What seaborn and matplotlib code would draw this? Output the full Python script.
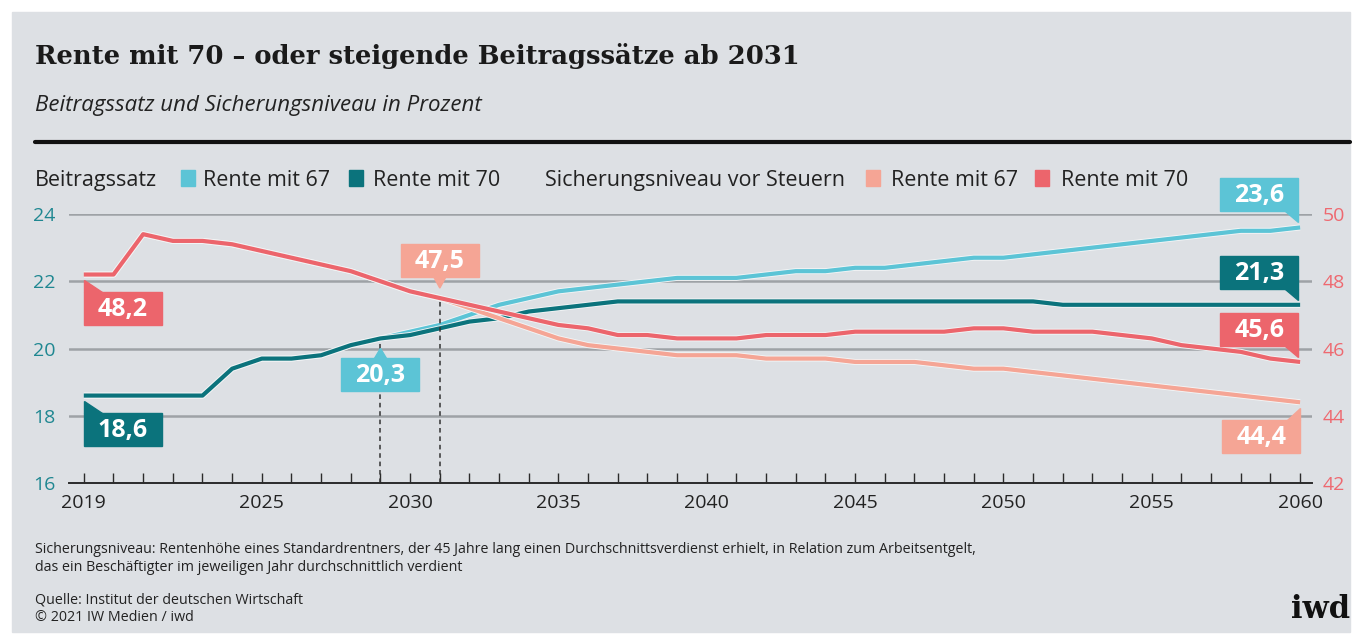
import matplotlib
matplotlib.use("Agg")
import matplotlib.pyplot as plt
import matplotlib.patheffects as pe
import matplotlib.transforms as mtransforms
from matplotlib.patches import Rectangle, Polygon
from matplotlib.ticker import FixedLocator, MultipleLocator
import pandas as pd
import seaborn as sns

# --- data ---
years = list(range(2019, 2061))

# Beitragssatz in Prozent (linke Achse)
beitrag_67 = [18.6, 18.6, 18.6, 18.6, 18.6, 19.4, 19.7, 19.7, 19.8, 20.1, 20.3,
              20.5, 20.7, 21.0, 21.3, 21.5, 21.7, 21.8, 21.9, 22.0, 22.1, 22.1,
              22.1, 22.2, 22.3, 22.3, 22.4, 22.4, 22.5, 22.6, 22.7, 22.7, 22.8,
              22.9, 23.0, 23.1, 23.2, 23.3, 23.4, 23.5, 23.5, 23.6]
beitrag_70 = [18.6, 18.6, 18.6, 18.6, 18.6, 19.4, 19.7, 19.7, 19.8, 20.1, 20.3,
              20.4, 20.6, 20.8, 20.9, 21.1, 21.2, 21.3, 21.4, 21.4, 21.4, 21.4,
              21.4, 21.4, 21.4, 21.4, 21.4, 21.4, 21.4, 21.4, 21.4, 21.4, 21.4,
              21.3, 21.3, 21.3, 21.3, 21.3, 21.3, 21.3, 21.3, 21.3]

# Sicherungsniveau vor Steuern in Prozent (rechte Achse)
niveau_67 = [48.2, 48.2, 49.4, 49.2, 49.2, 49.1, 48.9, 48.7, 48.5, 48.3, 48.0,
             47.7, 47.5, 47.2, 46.9, 46.6, 46.3, 46.1, 46.0, 45.9, 45.8, 45.8,
             45.8, 45.7, 45.7, 45.7, 45.6, 45.6, 45.6, 45.5, 45.4, 45.4, 45.3,
             45.2, 45.1, 45.0, 44.9, 44.8, 44.7, 44.6, 44.5, 44.4]
niveau_70 = [48.2, 48.2, 49.4, 49.2, 49.2, 49.1, 48.9, 48.7, 48.5, 48.3, 48.0,
             47.7, 47.5, 47.3, 47.1, 46.9, 46.7, 46.6, 46.4, 46.4, 46.3, 46.3,
             46.3, 46.4, 46.4, 46.4, 46.5, 46.5, 46.5, 46.5, 46.6, 46.6, 46.5,
             46.5, 46.5, 46.4, 46.3, 46.1, 46.0, 45.9, 45.7, 45.6]

variants = ["Rente mit 67", "Rente mit 70"]
left_ticks = [16, 18, 20, 22, 24]
right_ticks = [42, 44, 46, 48, 50]
year_labels = [2019, 2025, 2030, 2035, 2040, 2045, 2050, 2055, 2060]
marker_years = [2029, 2031]

title = "Rente mit 70 – oder steigende Beitragssätze ab 2031"
subtitle = "Beitragssatz und Sicherungsniveau in Prozent"
note = ["Sicherungsniveau: Rentenhöhe eines Standardrentners, der 45 Jahre lang einen "
        "Durchschnittsverdienst erhielt, in Relation zum Arbeitsentgelt,",
        "das ein Beschäftigter im jeweiligen Jahr durchschnittlich verdient"]
source = ["Quelle: Institut der deutschen Wirtschaft", "© 2021 IW Medien / iwd"]

CYAN = "#5cc4d6"
TEAL = "#0b737c"
SALMON = "#f5a595"
RED = "#ec656c"
PANEL = "#dde0e4"
DARK = "#1a1a1a"

W, H = 1362, 642

sns.set_theme(style="white")
plt.rcParams["font.family"] = ["Open Sans", "DejaVu Sans"]

fig = plt.figure(figsize=(W / 100, H / 100), dpi=100)
fig.patch.set_facecolor("white")


def fx(x):
    return x / W


def fy(y):
    return 1 - y / H


fig.add_artist(Rectangle((fx(12), fy(632)), fx(1338), 620 / H,
                         transform=fig.transFigure, color=PANEL, zorder=0))

# header
fig.text(fx(35), fy(64), title, family=["DejaVu Serif"],
         fontweight="bold", fontsize=18.6, color=DARK, va="baseline")
fig.text(fx(35), fy(111), subtitle, fontstyle="italic", fontsize=16,
         color="#222222", va="baseline")
fig.add_artist(plt.Line2D([fx(35), fx(1350)], [fy(142), fy(142)],
                          transform=fig.transFigure, color="#111111", lw=3))

# legend row
legend_items = [
    ("text", 35, "Beitragssatz"),
    ("box", 181, CYAN), ("text", 203, variants[0]),
    ("box", 349, TEAL), ("text", 373, variants[1]),
    ("text", 545, "Sicherungsniveau vor Steuern"),
    ("box", 866, SALMON), ("text", 891, variants[0]),
    ("box", 1035, RED), ("text", 1061, variants[1]),
]
for kind, x, val in legend_items:
    if kind == "text":
        fig.text(fx(x), fy(186), val, fontsize=15.5, color="#222222", va="baseline")
    else:
        fig.add_artist(Rectangle((fx(x), fy(186)), fx(14), 16 / H,
                                 transform=fig.transFigure, color=val))

# axes
ax = fig.add_axes([fx(69), fy(483), fx(1312 - 69), (483 - 214) / H])
ax.patch.set_visible(False)

beitrag_df = pd.DataFrame({
    "Jahr": years * 2,
    "Wert": beitrag_67 + beitrag_70,
    "Variante": [variants[0]] * len(years) + [variants[1]] * len(years),
})
niveau_df = pd.DataFrame({
    "Jahr": years * 2,
    "Wert": niveau_67 + niveau_70,
    "Variante": [variants[0]] * len(years) + [variants[1]] * len(years),
})

sns.lineplot(data=beitrag_df, x="Jahr", y="Wert", hue="Variante", hue_order=variants,
             palette={variants[0]: CYAN, variants[1]: TEAL}, linewidth=3,
             legend=False, ax=ax)

ax2 = ax.twinx()
ax2.patch.set_visible(False)
sns.lineplot(data=niveau_df, x="Jahr", y="Wert", hue="Variante", hue_order=variants,
             palette={variants[0]: SALMON, variants[1]: RED}, linewidth=3,
             legend=False, ax=ax2)

halo = [pe.Stroke(linewidth=4.3, foreground="#f3f5f6"), pe.Normal()]
for line in ax.lines + ax2.lines:
    line.set_path_effects(halo)
    line.set_solid_capstyle("butt")

ax.set_xlim(2018.5, 2060.4)
ax.set_ylim(16, 24)
ax2.set_ylim(42, 50)
for a in (ax, ax2):
    a.set_xlabel("")
    a.set_ylabel("")
    for s in a.spines.values():
        s.set_visible(False)

ax.spines["bottom"].set_visible(True)
ax.spines["bottom"].set_color("#2b2b2b")
ax.spines["bottom"].set_linewidth(1.4)
ax.spines["bottom"].set_zorder(5)

ax.xaxis.set_major_locator(FixedLocator(year_labels))
ax.xaxis.set_minor_locator(MultipleLocator(1))
ax.tick_params(axis="x", which="both", direction="in", length=7.5, width=1.0,
               color="#2b2b2b", bottom=True, labelsize=14, labelcolor="#222222", pad=8)
ax.set_yticks(left_ticks)
ax.tick_params(axis="y", length=0, labelsize=14, labelcolor="#1f8791", pad=10)
ax2.set_yticks(right_ticks)
ax2.tick_params(axis="y", length=0, labelsize=14, labelcolor="#ee6970", pad=8)

ax.yaxis.grid(True, color="#9ea2a6", lw=1.8)
for gl, t in zip(ax.get_ygridlines(), left_ticks):
    if t == left_ticks[0]:
        gl.set_visible(False)

# dashed markers at 2029 (Beitragssatz) and 2031 (Sicherungsniveau)
ax.plot([marker_years[0]] * 2, [16, beitrag_67[years.index(marker_years[0])]],
        ls=(0, (3, 2.5)), color="#333333", lw=1.1, zorder=1)
ax2.plot([marker_years[1]] * 2, [42, niveau_67[years.index(marker_years[1])]],
         ls=(0, (3, 2.5)), color="#333333", lw=1.1, zorder=1)

fig.canvas.draw()
ident = mtransforms.IdentityTransform()


def callout(axis, values, year, color, where):
    val = values[years.index(year)]
    px, py = axis.transData.transform((year, val))
    bw, bh = 78, 33
    if where == "below_left":
        top = py - 17
        x0, y0 = px, top - bh
        tail = [(px, py - 5), (px, top), (px + 18, top)]
    elif where == "below_mid":
        top = py - 20
        x0, y0 = px - bw / 2, top - bh
        tail = [(px, py - 10), (px - 6, top), (px + 6, top)]
    elif where == "above_mid":
        bottom = py + 21
        x0, y0 = px - bw / 2, bottom
        tail = [(px, py + 10), (px - 6, bottom), (px + 6, bottom)]
    elif where == "above_end":
        bottom = py + 16
        x0, y0 = px - 2 - bw, bottom
        tail = [(px - 2, py + 5), (px - 2, bottom), (px - 15, bottom)]
    else:  # below_end
        top = py - 18
        x0, y0 = px - bw, top - bh
        tail = [(px, py - 6), (px, top), (px - 13, top)]
    fig.add_artist(Rectangle((x0, y0), bw, bh, transform=ident, color=color, zorder=10))
    fig.add_artist(Polygon(tail, closed=True, transform=ident, color=color, zorder=10))
    fig.text(x0 + bw / 2, y0 + bh / 2 - 1, f"{val:.1f}".replace(".", ","),
             transform=ident, ha="center", va="center", color="white",
             fontsize=18, fontweight="bold", zorder=11)


callout(ax2, niveau_70, 2019, RED, "below_left")
callout(ax, beitrag_70, 2019, TEAL, "below_left")
callout(ax, beitrag_67, 2029, CYAN, "below_mid")
callout(ax2, niveau_67, 2031, SALMON, "above_mid")
callout(ax, beitrag_67, 2060, CYAN, "above_end")
callout(ax, beitrag_70, 2060, TEAL, "above_end")
callout(ax2, niveau_70, 2060, RED, "above_end")
callout(ax2, niveau_67, 2060, SALMON, "below_end")

# footer
for i, line in enumerate(note):
    fig.text(fx(35), fy(553 + 18 * i), line, fontsize=10.3, color="#222222", va="baseline")
for i, line in enumerate(source):
    fig.text(fx(35), fy(603 + 18 * i), line, fontsize=10.3, color="#222222", va="baseline")
fig.text(fx(1350), fy(618), "iwd", family=["DejaVu Serif"], fontweight="bold",
         fontsize=22, color="#111111", ha="right", va="baseline")

fig.savefig("out.png", dpi=100, facecolor=fig.get_facecolor())
